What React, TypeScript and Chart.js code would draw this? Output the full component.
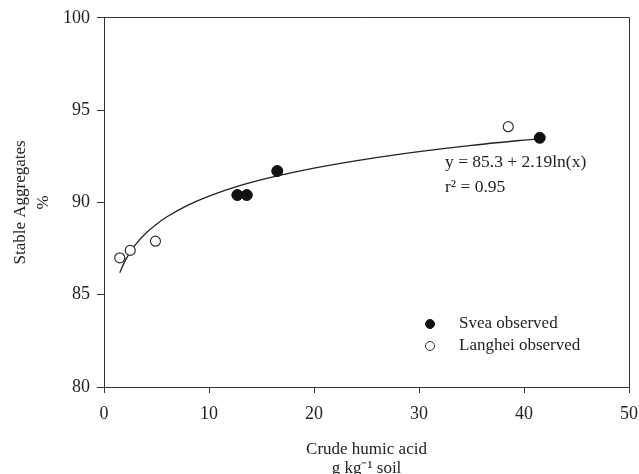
import React, { useEffect, useRef } from "react";
import { Chart, registerables } from "chart.js";

Chart.register(...registerables);

// ---- data ----
const sveaX = [12.7, 13.6, 16.5, 41.5];
const sveaY = [90.4, 90.4, 91.7, 93.5];
const langheiX = [1.5, 2.5, 4.9, 38.5];
const langheiY = [87.0, 87.4, 87.9, 94.1];
// fitted curve
const fitX = [1.5, 2, 2.5, 3, 4, 5, 6, 8, 10, 13, 16, 20, 25, 30, 35, 41.5];
const fitY = [86.19, 86.82, 87.31, 87.71, 88.34, 88.82, 89.22, 89.85, 90.34, 90.92, 91.37, 91.86, 92.35, 92.75, 93.09, 93.46];
const xTicks = [0, 10, 20, 30, 40, 50];
const yTicks = [80, 85, 90, 95, 100];
const seriesLabels = ["Svea observed", "Langhei observed"];
const equationLines = ["y = 85.3 + 2.19ln(x)", "r\u00B2 = 0.95"];
const xTitle = ["Crude humic acid", "g kg\u207B\u00B9 soil"];
const yTitle = ["Stable Aggregates", "%"];

const FONT = '"Liberation Serif", "Times New Roman", Times, serif';
const INK = "#222";
const AXIS = "#333";

const toPoints = (xs: number[], ys: number[]) => xs.map((x, i) => ({ x, y: ys[i] }));

const decorPlugin = {
  id: "decor",
  afterDraw(chart: any) {
    const { ctx, chartArea: a } = chart;
    ctx.save();
    // frame top + right
    ctx.strokeStyle = AXIS;
    ctx.lineWidth = 1;
    ctx.beginPath();
    const top = Math.floor(a.top) + 0.5;
    const right = Math.floor(a.right) + 0.5;
    ctx.moveTo(Math.floor(a.left), top);
    ctx.lineTo(right, top);
    ctx.lineTo(right, Math.floor(a.bottom) + 1);
    ctx.stroke();

    // equation
    ctx.fillStyle = INK;
    ctx.font = `17.5px ${FONT}`;
    ctx.textBaseline = "middle";
    ctx.textAlign = "left";
    ctx.fillText(equationLines[0], 445, 162);
    ctx.fillText(equationLines[1], 445, 187);

    // legend
    ctx.font = `17px ${FONT}`;
    const ds = chart.data.datasets;
    const rows = [
      { y: 324, d: ds[0] },
      { y: 346, d: ds[1] },
    ];
    rows.forEach(({ y, d }) => {
      ctx.beginPath();
      ctx.arc(430, y, 4.5, 0, Math.PI * 2);
      ctx.fillStyle = d.backgroundColor;
      ctx.fill();
      ctx.strokeStyle = d.borderColor;
      ctx.lineWidth = 1;
      ctx.stroke();
      ctx.fillStyle = INK;
      ctx.fillText(d.label, 459, y);
    });
    ctx.restore();
  },
};

export default function App() {
  const ref = useRef<HTMLCanvasElement | null>(null);

  useEffect(() => {
    document.body.style.margin = "0";
    document.body.style.overflow = "hidden";
    const canvas = ref.current;
    if (!canvas) return;
    const chart = new Chart(canvas, {
      type: "scatter",
      data: {
        datasets: [
          {
            label: seriesLabels[0],
            data: toPoints(sveaX, sveaY),
            backgroundColor: "#111",
            borderColor: "#111",
            borderWidth: 1,
            pointRadius: 5.5,
            order: 0,
          },
          {
            label: seriesLabels[1],
            data: toPoints(langheiX, langheiY),
            backgroundColor: "#fff",
            borderColor: "#333",
            borderWidth: 1.2,
            pointRadius: 5,
            order: 1,
          },
          {
            type: "line",
            label: "fit",
            data: toPoints(fitX, fitY),
            borderColor: "#222",
            borderWidth: 1.3,
            pointRadius: 0,
            fill: false,
            showLine: true,
            cubicInterpolationMode: "monotone",
            order: 2,
          } as any,
        ],
      },
      options: {
        animation: false,
        responsive: false,
        devicePixelRatio: 1,
        layout: { padding: { top: 17, right: 10, bottom: 0, left: 0 } },
        plugins: {
          legend: { display: false },
          tooltip: { enabled: false },
        },
        scales: {
          x: {
            type: "linear",
            min: 0,
            max: 50,
            afterBuildTicks: (s: any) => {
              s.ticks = xTicks.map((v) => ({ value: v }));
            },
            afterFit: (s: any) => {
              s.height = 87;
              s.paddingRight = 0;
              s.paddingLeft = 0;
            },
            grid: {
              drawOnChartArea: false,
              drawTicks: true,
              tickLength: 6,
              color: AXIS,
            },
            border: { display: true, color: AXIS, width: 1 },
            ticks: {
              color: INK,
              padding: 10,
              maxRotation: 0,
              font: { family: FONT, size: 18 },
            },
            title: {
              display: true,
              text: xTitle,
              color: INK,
              font: { family: FONT, size: 17, lineHeight: 1.1 },
              padding: { top: 0, bottom: -4 },
            },
          },
          y: {
            type: "linear",
            min: 80,
            max: 100,
            afterBuildTicks: (s: any) => {
              s.ticks = yTicks.map((v) => ({ value: v }));
            },
            afterFit: (s: any) => {
              s.width = 104;
            },
            grid: {
              drawOnChartArea: false,
              drawTicks: true,
              tickLength: 7,
              color: AXIS,
            },
            border: { display: true, color: AXIS, width: 1 },
            ticks: {
              color: INK,
              padding: 7,
              font: { family: FONT, size: 18 },
            },
            title: {
              display: true,
              text: yTitle,
              color: INK,
              font: { family: FONT, size: 17, lineHeight: 1.35 },
              padding: { top: 9, bottom: 0 },
            },
          },
        },
      },
      plugins: [decorPlugin],
    } as any);
    return () => chart.destroy();
  }, []);

  return (
    <div style={{ width: 639, height: 474 }}>
      <canvas ref={ref} width={639} height={474} style={{ display: "block" }} />
    </div>
  );
}
